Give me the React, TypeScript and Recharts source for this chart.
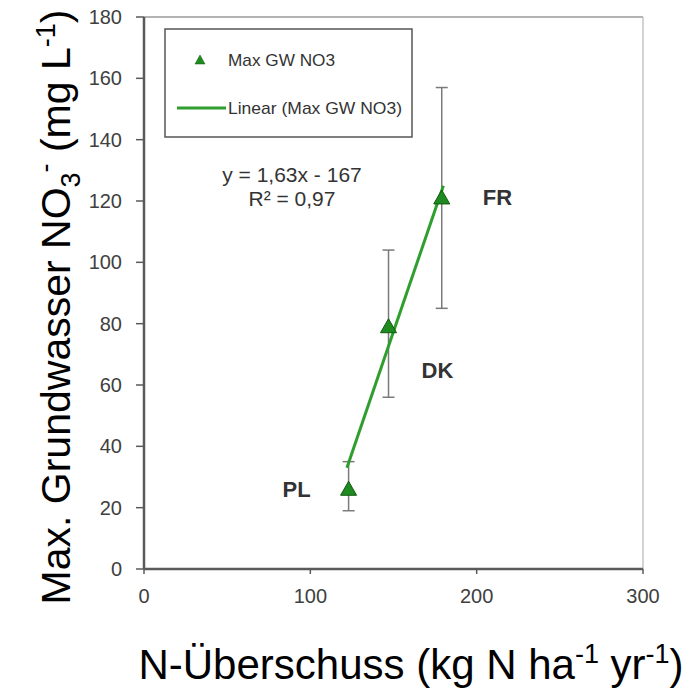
import React from 'react';
import {
  ScatterChart,
  Scatter,
  XAxis,
  YAxis,
  ErrorBar,
  ReferenceLine,
  LabelList,
  Customized,
} from 'recharts';

// Werte
const countries = ['PL', 'DK', 'FR'];
const nSurplus = [123, 147, 179];
const maxNo3 = [26, 79, 121];
const no3Low = [19, 56, 85];
const no3High = [35, 104, 157];

// Endpunkte der Trendlinie (y = 1,63x - 167)
const trendX = [122, 180];
const trendY = [33, 125];

const xTicks = [0, 100, 200, 300];
const yTicks = [0, 20, 40, 60, 80, 100, 120, 140, 160, 180];

const points = countries.map((name, i) => ({
  name,
  x: nSurplus[i],
  y: maxNo3[i],
  err: [maxNo3[i] - no3Low[i], no3High[i] - maxNo3[i]],
}));

const trend = trendX.map((x, i) => ({ x, y: trendY[i] }));

const GREEN = '#1f8a1f';
const LINE_GREEN = '#2f9e2f';
const AXIS = '#5a5a5a';
const FONT = 'Arial, "Liberation Sans", sans-serif';
const NARROW = '"Liberation Sans Narrow", "Arial Narrow", Arial, sans-serif';

const Triangle = (props: any) => {
  const { cx, cy } = props;
  if (cx == null || cy == null) return null;
  return (
    <polygon
      points={`${cx},${cy - 8} ${cx - 8},${cy + 6} ${cx + 8},${cy + 6}`}
      fill={GREEN}
      stroke="#0e5a0e"
      strokeWidth={1}
    />
  );
};

const labelOffsets: Record<string, { dx: number; dy: number; anchor: string }> = {
  PL: { dx: -38, dy: 0, anchor: 'end' },
  DK: { dx: 33, dy: 44, anchor: 'start' },
  FR: { dx: 41, dy: 0, anchor: 'start' },
};

const CountryLabel = (props: any) => {
  const { x, y, width, height, value } = props;
  const cx = x + (width || 0) / 2;
  const cy = y + (height || 0) / 2;
  const o = labelOffsets[value] || { dx: 10, dy: 0, anchor: 'start' };
  return (
    <text
      x={cx + o.dx}
      y={cy + o.dy}
      textAnchor={o.anchor as any}
      dominantBaseline="central"
      fontFamily={FONT}
      fontWeight="bold"
      fontSize={22}
      fill="#333"
    >
      {value}
    </text>
  );
};

const Annotations = () => (
  <g>
    {/* Legende */}
    <rect x={165} y={29} width={247} height={108} fill="#fff" stroke="#555" strokeWidth={1.5} />
    <polygon points="200,55 195,64 205,64" fill={GREEN} stroke="#0e5a0e" strokeWidth={0.5} />
    <text x={228} y={60} dominantBaseline="central" fontFamily={NARROW} fontSize={17} fill="#333"
      textLength={107} lengthAdjust="spacingAndGlyphs">
      Max GW NO3
    </text>
    <line x1={177} y1={108} x2={226} y2={108} stroke={LINE_GREEN} strokeWidth={3} />
    <text x={228} y={108} dominantBaseline="central" fontFamily={NARROW} fontSize={17} fill="#333"
      textLength={174} lengthAdjust="spacingAndGlyphs">
      Linear (Max GW NO3)
    </text>

    {/* Regressionsgleichung */}
    <text x={292} y={174} textAnchor="middle" dominantBaseline="central" fontFamily={FONT} fontSize={21} fill="#333">
      y = 1,63x - 167
    </text>
    <text x={292} y={198} textAnchor="middle" dominantBaseline="central" fontFamily={FONT} fontSize={21} fill="#333">
      R² = 0,97
    </text>

    {/* Achsentitel */}
    <text transform="translate(70,307) rotate(-90)" textAnchor="middle"
      fontFamily={FONT} fontSize={41} fill="#000">
      Max. Grundwasser NO
      <tspan fontSize={27} dy={10}>3</tspan>
      <tspan fontSize={27} dy={-26}>-</tspan>
      <tspan dy={16}> (mg L</tspan>
      <tspan fontSize={27} dy={-15}>-1</tspan>
      <tspan dy={15}>)</tspan>
    </text>
    <text x={411} y={679} textAnchor="middle" fontFamily={FONT} fontSize={42} fill="#000">
      N-Überschuss (kg N ha
      <tspan fontSize={27} dy={-16}>-1</tspan>
      <tspan dy={16}> yr</tspan>
      <tspan fontSize={27} dy={-16}>-1</tspan>
      <tspan dy={16}>)</tspan>
    </text>
  </g>
);

export default function App() {
  return (
    <div style={{ position: 'absolute', left: 0, top: 0, width: 695, height: 688, background: '#fff' }}>
      <ScatterChart width={695} height={688} margin={{ top: 17, right: 52, left: 0, bottom: 0 }}>
        <XAxis
          type="number"
          dataKey="x"
          domain={[0, 300]}
          ticks={xTicks}
          height={119}
          tickSize={5}
          tickMargin={15}
          axisLine={{ stroke: AXIS, strokeWidth: 2.5 }}
          tickLine={{ stroke: AXIS, strokeWidth: 1.5 }}
          tick={{ fill: '#404040', fontSize: 20, fontFamily: FONT }}
        />
        <YAxis
          type="number"
          dataKey="y"
          domain={[0, 180]}
          ticks={yTicks}
          width={144}
          tickSize={8}
          tickMargin={14}
          axisLine={{ stroke: AXIS, strokeWidth: 2.5 }}
          tickLine={{ stroke: AXIS, strokeWidth: 1.5 }}
          tick={{ fill: '#404040', fontSize: 20, fontFamily: FONT }}
        />
        <ReferenceLine y={180} stroke="#9a9a9a" strokeWidth={1.5} />
        <ReferenceLine x={300} stroke="#c4c4c4" strokeWidth={1.5} />
        <Scatter data={points} shape={() => null} isAnimationActive={false} legendType="none">
          <ErrorBar dataKey="err" direction="y" width={6} stroke="#7a7a7a" strokeWidth={1.5} />
        </Scatter>
        <Scatter
          data={trend}
          line={{ stroke: LINE_GREEN, strokeWidth: 3 }}
          shape={() => null}
          isAnimationActive={false}
          legendType="none"
        />
        <Scatter data={points} shape={<Triangle />} isAnimationActive={false} legendType="none">
          <LabelList dataKey="name" content={<CountryLabel />} />
        </Scatter>
        <Customized component={Annotations} />
      </ScatterChart>
    </div>
  );
}
